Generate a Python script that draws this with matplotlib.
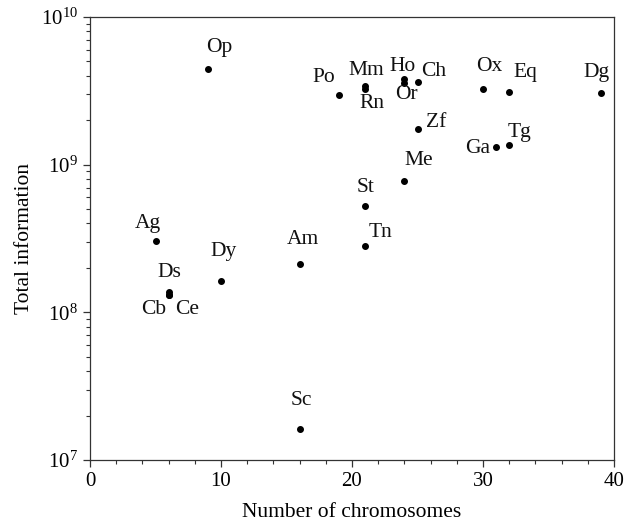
import matplotlib
matplotlib.use("Agg")
import matplotlib.pyplot as plt
from matplotlib.ticker import LogLocator, MultipleLocator, NullFormatter

# ---- data ----
species = ["Op", "Ag", "Am", "Dy", "Ds", "Cb", "Ce", "Sc", "Po", "Mm", "Rn",
           "Ho", "Or", "Ch", "Ox", "Eq", "Dg", "Zf", "Tg", "Ga", "Me", "St", "Tn"]
chromosomes = [9, 5, 16, 10, 6, 6, 6, 16, 19, 21, 21,
               24, 24, 25, 30, 32, 39, 25, 32, 31, 24, 21, 21]
total_info = [4.45e9, 3.03e8, 2.13e8, 1.62e8, 1.38e8, 1.32e8, 1.32e8, 1.62e7,
              2.95e9, 3.41e9, 3.27e9, 3.78e9, 3.59e9, 3.65e9, 3.24e9, 3.10e9,
              3.04e9, 1.74e9, 1.35e9, 1.32e9, 7.77e8, 5.27e8, 2.82e8]

# ---- label placement (pixel offsets from each point) ----
label_offsets = {
    "Op": (11, 21), "Ag": (-8, 18), "Am": (3, 24), "Dy": (3, 30),
    "Ds": (1, 19), "Cb": (-15, -15), "Ce": (19, -15), "Sc": (2, 29),
    "Po": (-15, 18), "Mm": (1, 15), "Rn": (7, -15), "Ho": (-2, 13),
    "Or": (2, -12), "Ch": (16, 10), "Ox": (6, 23), "Eq": (16, 20),
    "Dg": (-4, 21), "Zf": (19, 7), "Tg": (10, 13), "Ga": (-18, -2),
    "Me": (14, 20), "St": (0, 18), "Tn": (15, 13),
}

plt.rcParams["font.family"] = ["Liberation Serif", "DejaVu Serif"]
plt.rcParams["mathtext.fontset"] = "custom"
plt.rcParams["mathtext.rm"] = "Liberation Serif"
plt.rcParams["mathtext.it"] = "Liberation Serif:italic"
plt.rcParams["font.size"] = 15

fig = plt.figure(figsize=(6.24, 5.27), dpi=100)
ax = fig.add_axes([90 / 624, 1 - 460 / 527, (614 - 90) / 624, (460 - 17) / 527])

ax.plot(chromosomes, total_info, "o", color="black", markersize=4, linestyle="none")

for name, xv, yv in zip(species, chromosomes, total_info):
    dx, dy = label_offsets[name]
    ax.annotate(name, (xv, yv), xytext=(dx, dy), textcoords="offset pixels",
                ha="center", va="center", fontsize=15.5, color="#111111")

ax.set_yscale("log")
ax.set_xlim(0, 40)
ax.set_ylim(1e7, 1e10)
ax.xaxis.set_major_locator(MultipleLocator(10))
ax.xaxis.set_minor_locator(MultipleLocator(2))
ax.yaxis.set_major_locator(LogLocator(base=10, numticks=10))
ax.yaxis.set_minor_locator(LogLocator(base=10, subs=range(2, 10), numticks=20))
ax.yaxis.set_minor_formatter(NullFormatter())

for s in ax.spines.values():
    s.set_linewidth(0.9)
    s.set_color("#333333")

ax.tick_params(which="major", direction="out", length=5, width=0.9, color="#333333",
               labelsize=15, top=False, right=False)
ax.tick_params(which="minor", direction="out", length=3, width=0.8, color="#333333",
               top=False, right=False)

ax.set_xlabel("Number of chromosomes", fontsize=15.5, labelpad=9)
ax.set_ylabel("Total information", fontsize=15.5, labelpad=5)

fig.savefig("out.png", dpi=100)
